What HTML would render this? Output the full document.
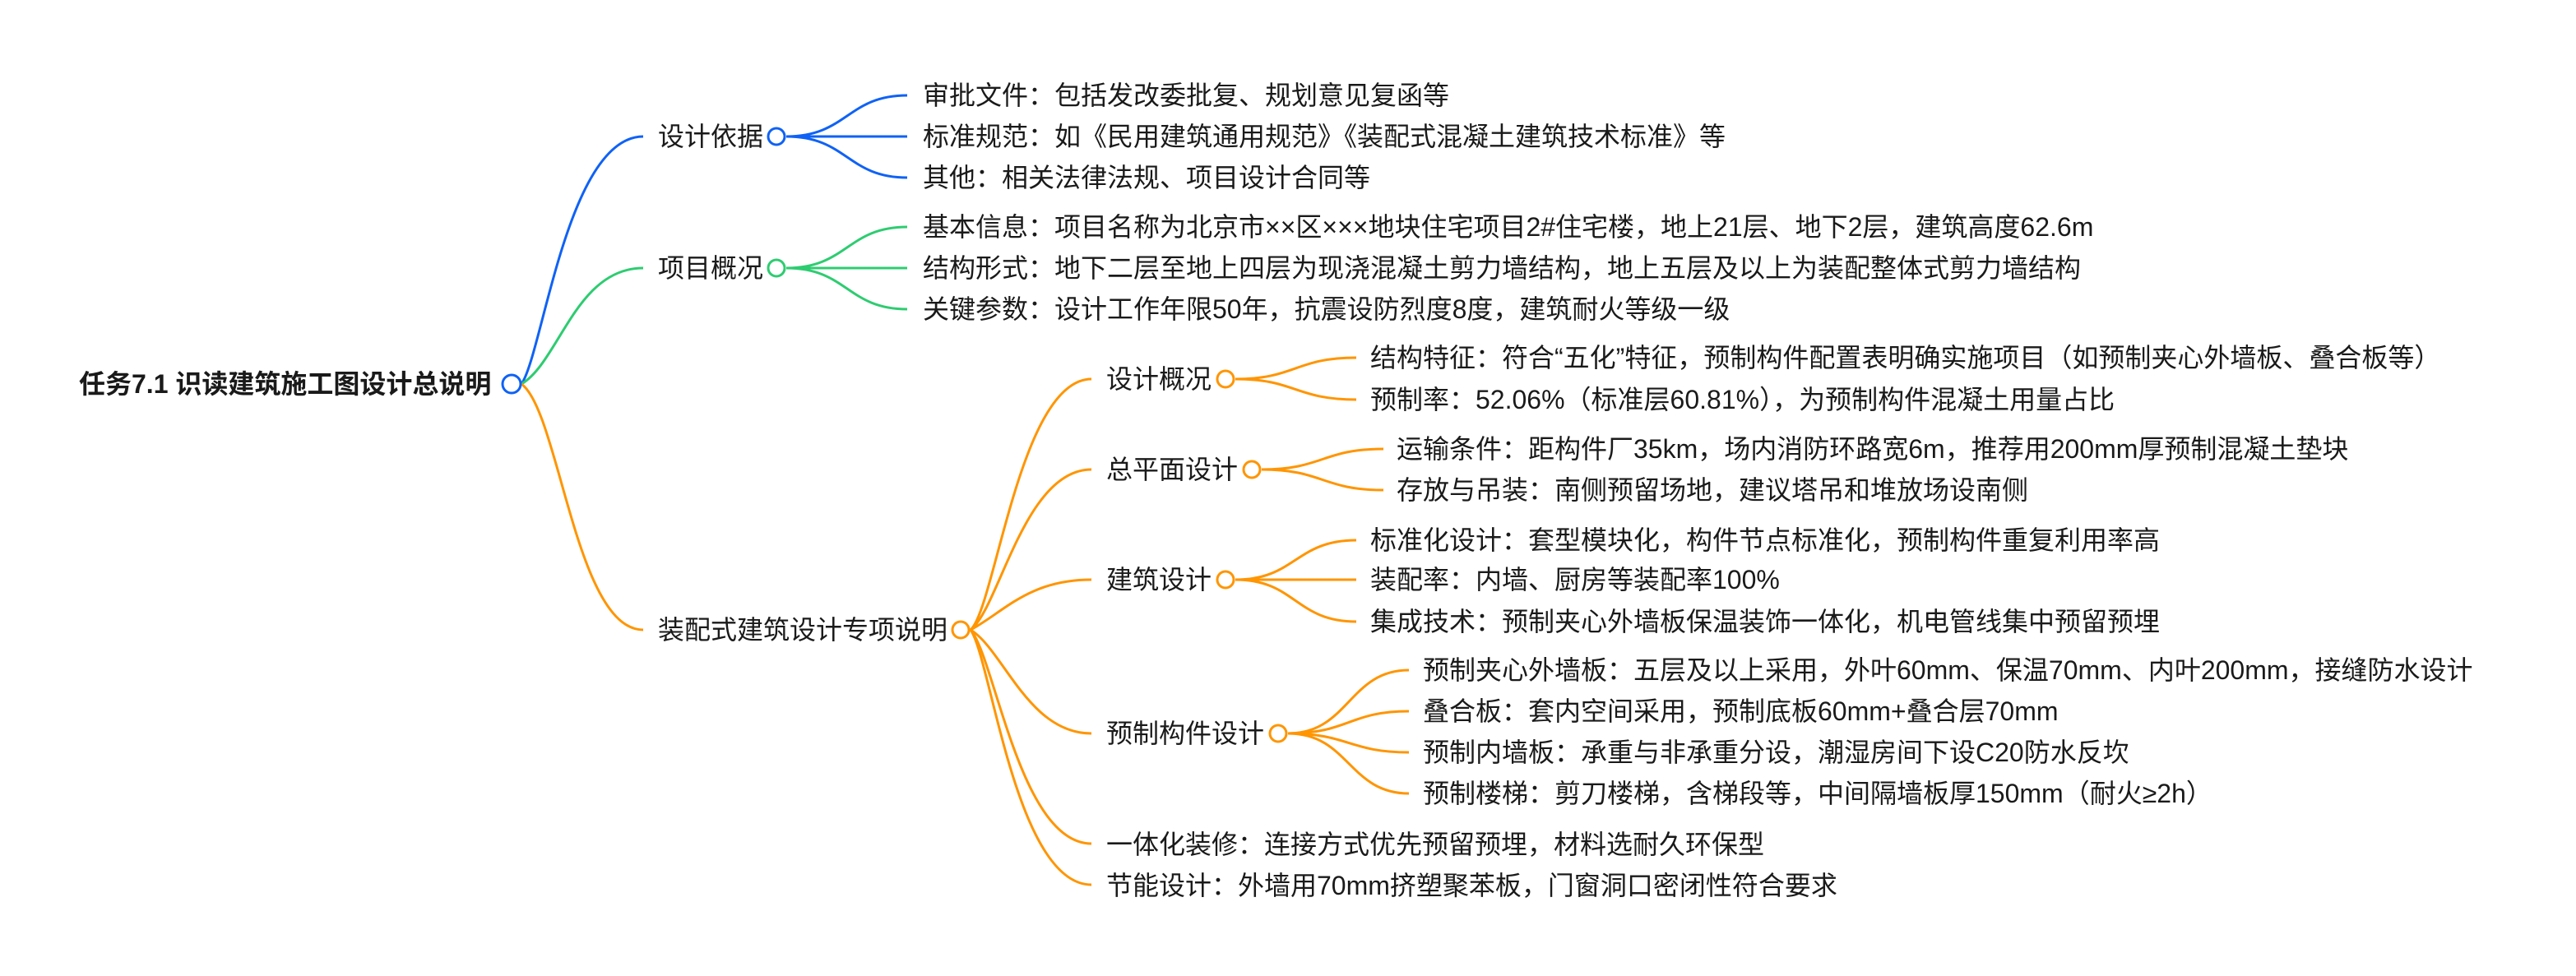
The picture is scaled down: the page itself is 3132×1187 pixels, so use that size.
<!DOCTYPE html>
<html><head><meta charset="utf-8"><style>
html,body{margin:0;padding:0;background:#fff;}
svg{display:block;}
text{font-family:"Liberation Sans","Noto Sans CJK SC",sans-serif;font-size:32px;fill:#1a1a1a;dominant-baseline:central;}
.b{fill:none;stroke:#0f62f5;stroke-width:3;}
.g{fill:none;stroke:#2ecc71;stroke-width:3;}
.o{fill:none;stroke:#ff9500;stroke-width:3;}
</style></head><body>
<svg width="3132" height="1187" viewBox="0 0 3132 1187" xmlns="http://www.w3.org/2000/svg">
<!-- root to L1 -->
<path class="b" d="M634 467 C660 430 690 166 782 166"/>
<path class="g" d="M634 467 C680 440 700 326 782 326"/>
<path class="o" d="M634 467 C680 500 700 766 782 766"/>
<!-- design basis leaves -->
<path class="b" d="M956 166 C1030 166 1030 116 1103 116"/>
<path class="b" d="M956 166 L1103 166"/>
<path class="b" d="M956 166 C1030 166 1030 216 1103 216"/>
<!-- overview leaves -->
<path class="g" d="M956 326 C1030 326 1030 276 1103 276"/>
<path class="g" d="M956 326 L1103 326"/>
<path class="g" d="M956 326 C1030 326 1030 376 1103 376"/>
<!-- orange L1 to L2 -->
<path class="o" d="M1180 766 C1210 740 1240 461 1327 461"/>
<path class="o" d="M1180 766 C1215 740 1245 571 1327 571"/>
<path class="o" d="M1180 766 C1220 745 1250 705 1327 705"/>
<path class="o" d="M1180 766 C1220 790 1250 892 1327 892"/>
<path class="o" d="M1180 766 C1210 800 1240 1026 1327 1026"/>
<path class="o" d="M1180 766 C1205 800 1235 1076 1327 1076"/>
<!-- L2 leaves -->
<path class="o" d="M1502 461 C1575 461 1575 435 1649 435"/>
<path class="o" d="M1502 461 C1575 461 1575 486 1649 486"/>
<path class="o" d="M1534 571 C1608 571 1608 546 1682 546"/>
<path class="o" d="M1534 571 C1608 571 1608 596 1682 596"/>
<path class="o" d="M1502 705 C1575 705 1575 657 1649 657"/>
<path class="o" d="M1502 705 L1649 705"/>
<path class="o" d="M1502 705 C1575 705 1575 756 1649 756"/>
<path class="o" d="M1566 892 C1640 892 1640 815 1713 815"/>
<path class="o" d="M1566 892 C1640 892 1640 865 1713 865"/>
<path class="o" d="M1566 892 C1640 892 1640 915 1713 915"/>
<path class="o" d="M1566 892 C1640 892 1640 965 1713 965"/>
<!-- circles -->
<circle cx="622" cy="467" r="11" fill="#fff" stroke="#0f62f5" stroke-width="3"/>
<circle cx="944" cy="166" r="10" fill="#fff" stroke="#0f62f5" stroke-width="3"/>
<circle cx="944" cy="326" r="10" fill="#fff" stroke="#2ecc71" stroke-width="3"/>
<circle cx="1168" cy="766" r="10" fill="#fff" stroke="#ff9500" stroke-width="3"/>
<circle cx="1490" cy="461" r="10" fill="#fff" stroke="#ff9500" stroke-width="3"/>
<circle cx="1522" cy="571" r="10" fill="#fff" stroke="#ff9500" stroke-width="3"/>
<circle cx="1490" cy="705" r="10" fill="#fff" stroke="#ff9500" stroke-width="3"/>
<circle cx="1554" cy="892" r="10" fill="#fff" stroke="#ff9500" stroke-width="3"/>
<!-- texts -->
<text x="96" y="467" font-weight="bold">任务7.1 识读建筑施工图设计总说明</text>
<text x="800" y="166">设计依据</text>
<text x="800" y="326">项目概况</text>
<text x="800" y="766">装配式建筑设计专项说明</text>
<text x="1122" y="116">审批文件：包括发改委批复、规划意见复函等</text>
<text x="1122" y="166">标准规范：如《民用建筑通用规范》《装配式混凝土建筑技术标准》等</text>
<text x="1122" y="216">其他：相关法律法规、项目设计合同等</text>
<text x="1122" y="276">基本信息：项目名称为北京市××区×××地块住宅项目2#住宅楼，地上21层、地下2层，建筑高度62.6m</text>
<text x="1122" y="326">结构形式：地下二层至地上四层为现浇混凝土剪力墙结构，地上五层及以上为装配整体式剪力墙结构</text>
<text x="1122" y="376">关键参数：设计工作年限50年，抗震设防烈度8度，建筑耐火等级一级</text>
<text x="1345" y="461">设计概况</text>
<text x="1345" y="571">总平面设计</text>
<text x="1345" y="705">建筑设计</text>
<text x="1345" y="892">预制构件设计</text>
<text x="1345" y="1027">一体化装修：连接方式优先预留预埋，材料选耐久环保型</text>
<text x="1345" y="1077">节能设计：外墙用70mm挤塑聚苯板，门窗洞口密闭性符合要求</text>
<text x="1666" y="435">结构特征：符合“五化”特征，预制构件配置表明确实施项目（如预制夹心外墙板、叠合板等）</text>
<text x="1666" y="486">预制率：52.06%（标准层60.81%），为预制构件混凝土用量占比</text>
<text x="1698" y="546">运输条件：距构件厂35km，场内消防环路宽6m，推荐用200mm厚预制混凝土垫块</text>
<text x="1698" y="596">存放与吊装：南侧预留场地，建议塔吊和堆放场设南侧</text>
<text x="1666" y="657">标准化设计：套型模块化，构件节点标准化，预制构件重复利用率高</text>
<text x="1666" y="705">装配率：内墙、厨房等装配率100%</text>
<text x="1666" y="756">集成技术：预制夹心外墙板保温装饰一体化，机电管线集中预留预埋</text>
<text x="1730" y="815">预制夹心外墙板：五层及以上采用，外叶60mm、保温70mm、内叶200mm，接缝防水设计</text>
<text x="1730" y="865">叠合板：套内空间采用，预制底板60mm+叠合层70mm</text>
<text x="1730" y="915">预制内墙板：承重与非承重分设，潮湿房间下设C20防水反坎</text>
<text x="1730" y="965">预制楼梯：剪刀楼梯，含梯段等，中间隔墙板厚150mm（耐火≥2h）</text>
</svg>
</body></html>
